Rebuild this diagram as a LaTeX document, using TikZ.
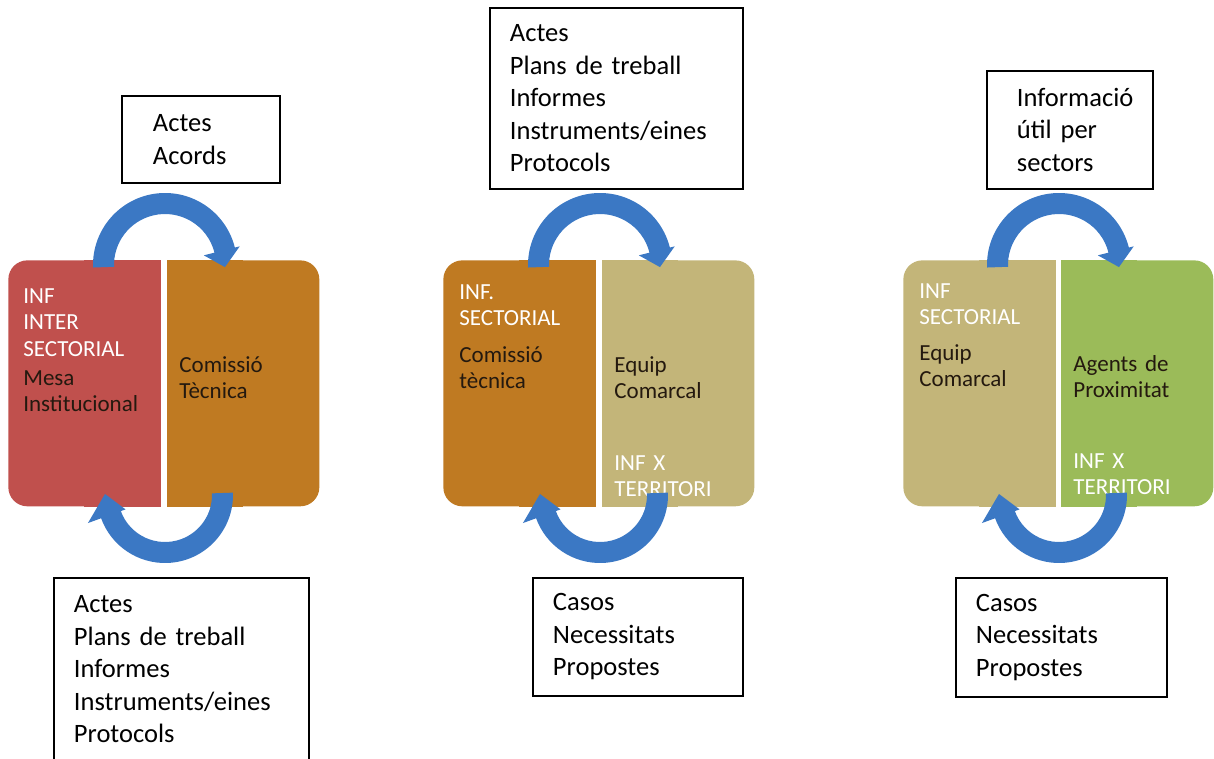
\documentclass[tikz,border=0pt]{standalone}
\usepackage{fontspec}
\setmainfont{Carlito}

\definecolor{mesared}{HTML}{C0504D}
\definecolor{tecorange}{HTML}{BF7A22}
\definecolor{comtan}{HTML}{C3B579}
\definecolor{agentgreen}{HTML}{9BBB59}
\definecolor{loopblue}{HTML}{3B78C4}
\definecolor{textdark}{HTML}{24190F}

\newcommand{\infofont}{\fontsize{15.1pt}{18.5pt}\selectfont}
\newcommand{\blockfont}{\fontsize{13.1pt}{14.8pt}\selectfont}

\begin{document}
\begin{tikzpicture}[x=0.02cm,y=-0.02cm,
	block/.style={rectangle,rounded corners=0.38cm,minimum width=3.04cm,minimum height=4.92cm,anchor=north west,inner sep=0pt},
	headtxt/.style={anchor=base west,inner sep=0pt,text width=2.6cm,align=left,text=white,font=\blockfont},
	bodytxt/.style={headtxt,text=textdark},
	infobox/.style={draw=black,line width=1.1pt,anchor=north west,align=left,font=\infofont,inner xsep=0.4cm,inner ysep=0pt},
	loopfill/.style={fill=loopblue}]

	\useasboundingbox (0,0) rectangle (1214,758);

	% panel 1
	\node 	(mesa)		at	(8,260)		[block,fill=mesared]{};
	\fill[mesared] (mesa.north) rectangle (mesa.south east);
	\node 	(tecnica)	at	(167,260)	[block,fill=tecorange]{};
	\fill[tecorange] (tecnica.north west) rectangle (tecnica.south);

	\node 	(mesahead)	at	(23,303)	[headtxt,font=\fontsize{13.1pt}{15.3pt}\selectfont]{INF\\INTER\\SECTORIAL};
	\node 	(mesabody)	at	(23,385)	[bodytxt,font=\fontsize{13.1pt}{15.3pt}\selectfont]{Mesa\\Institucional};
	\node 	(tecbody)	at	(179,372)	[bodytxt]{Comissió\\Tècnica};

	\fill[loopfill,shift={(165,265)}] (178:72) arc[start angle=178,end angle=346,radius=72]
		-- (346:77) -- (362:60) -- (346:40) -- (346:51) arc[start angle=346,end angle=178,radius=51] -- cycle;
	\fill[loopfill,shift={(165,495)}] (-2:68) arc[start angle=-2,end angle=160,radius=68]
		-- (160:82) -- (181:60) -- (160:42) -- (160:47) arc[start angle=160,end angle=-2,radius=47] -- cycle;

	\node 	(acords)	at	(121,95)	[infobox,text width=2.36cm,minimum height=1.74cm,execute at begin node={\leftskip=0.22cm}]{Actes\\Acords};
	\node 	(actes)		at	(53,577)	[infobox,text width=4.30cm,minimum height=3.66cm]{Actes\\Plans de treball\\Informes\\Instruments/eines\\Protocols};

	% panel 2
	\node 	(comissio)	at	(443,260)	[block,fill=tecorange]{};
	\fill[tecorange] (comissio.north) rectangle (comissio.south east);
	\node 	(equip)		at	(602,260)	[block,fill=comtan]{};
	\fill[comtan] (equip.north west) rectangle (equip.south);

	\node 	(comhead)	at	(459,299)	[headtxt,font=\fontsize{13.1pt}{15.3pt}\selectfont]{INF.\\SECTORIAL};
	\node 	(combody)	at	(459,362)	[bodytxt]{Comissió\\tècnica};
	\node 	(equipbody)	at	(614,372)	[bodytxt]{Equip\\Comarcal};
	\node 	(equiphead)	at	(614,470)	[headtxt]{INF X\\TERRITORI};

	\fill[loopfill,shift={(600,265)}] (178:72) arc[start angle=178,end angle=346,radius=72]
		-- (346:77) -- (362:60) -- (346:40) -- (346:51) arc[start angle=346,end angle=178,radius=51] -- cycle;
	\fill[loopfill,shift={(600,495)}] (-2:68) arc[start angle=-2,end angle=160,radius=68]
		-- (160:82) -- (181:60) -- (160:42) -- (160:47) arc[start angle=160,end angle=-2,radius=47] -- cycle;

	\node 	(treball)	at	(489,7)		[infobox,text width=4.26cm,minimum height=3.62cm]{Actes\\Plans de treball\\Informes\\Instruments/eines\\Protocols};
	\node 	(casos)		at	(532,577)	[infobox,text width=3.40cm,minimum height=2.36cm]{Casos\\Necessitats\\Propostes};

	% panel 3
	\node 	(equipsec)	at	(903,260)	[block,fill=comtan]{};
	\fill[comtan] (equipsec.north) rectangle (equipsec.south east);
	\node 	(agents)	at	(1061,260)	[block,fill=agentgreen]{};
	\fill[agentgreen] (agents.north west) rectangle (agents.south);

	\node 	(sechead)	at	(919,298)	[headtxt]{INF\\SECTORIAL};
	\node 	(secbody)	at	(919,360)	[bodytxt]{Equip\\Comarcal};
	\node 	(agentbody)	at	(1073,371)	[bodytxt]{Agents de\\Proximitat};
	\node 	(agenthead)	at	(1073,468)	[headtxt]{INF X\\TERRITORI};

	\fill[loopfill,shift={(1059,265)}] (178:72) arc[start angle=178,end angle=346,radius=72]
		-- (346:77) -- (362:60) -- (346:40) -- (346:51) arc[start angle=346,end angle=178,radius=51] -- cycle;
	\fill[loopfill,shift={(1059,495)}] (-2:68) arc[start angle=-2,end angle=160,radius=68]
		-- (160:82) -- (181:60) -- (160:42) -- (160:47) arc[start angle=160,end angle=-2,radius=47] -- cycle;

	\node 	(utilinfo)	at	(986,70)	[infobox,inner xsep=0.3cm,text width=2.72cm,minimum height=2.36cm,execute at begin node={\leftskip=0.3cm}]{Informació\\útil per\\sectors};
	\node 	(propostes)	at	(955,577)	[infobox,text width=3.42cm,minimum height=2.38cm]{Casos\\Necessitats\\Propostes};

\end{tikzpicture}
\end{document}
